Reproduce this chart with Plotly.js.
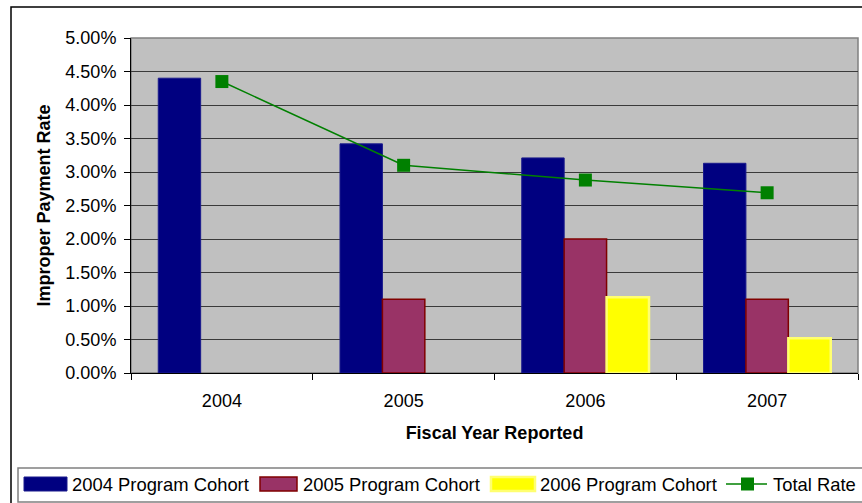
<!DOCTYPE html>
<html>
<head>
<meta charset="utf-8">
<script src="https://cdn.plot.ly/plotly-3.0.1.min.js"></script>
<style>
  html, body { margin: 0; padding: 0; background: #ffffff; }
  #chart { width: 862px; height: 503px; }
</style>
</head>
<body>
<div id="chart"></div>
<script>
// Fiscal years reported and improper payment rates (percent)
const years = ['2004', '2005', '2006', '2007'];
const cohort2004 = [4.40, 3.42, 3.21, 3.13];
const cohort2005 = [null, 1.10, 2.00, 1.10];
const cohort2006 = [null, null, 1.13, 0.52];
const totalRate = [4.35, 3.10, 2.88, 2.69];
const seriesNames = ['2004 Program Cohort', '2005 Program Cohort', '2006 Program Cohort', 'Total Rate'];
const yTicks = [0, 0.5, 1, 1.5, 2, 2.5, 3, 3.5, 4, 4.5, 5];

const W = 862, H = 503;
const M = { l: 131, r: 4, t: 38, b: 130 };
const PW = W - M.l - M.r, PH = H - M.t - M.b;
// pixel -> paper coordinates for decorations around the plot
const px = x => (x - M.l) / PW;
const py = y => (H - M.b - y) / PH;

const FONT = 'Liberation Sans, Arial, sans-serif';
const navy = '#000080', maroon = '#993366', yellow = '#FFFF00', green = '#008000';

const traces = [
  { type: 'bar', name: seriesNames[0], x: years, y: cohort2004,
    marker: { color: navy, line: { color: '#1a1a8c', width: 1 } }, hoverinfo: 'y' },
  { type: 'bar', name: seriesNames[1], x: years, y: cohort2005,
    marker: { color: maroon, line: { color: '#800000', width: 1.5 } }, hoverinfo: 'y' },
  { type: 'bar', name: seriesNames[2], x: years, y: cohort2006,
    marker: { color: yellow, line: { color: '#FFFF70', width: 2.5 } }, hoverinfo: 'y' },
  { type: 'scatter', mode: 'lines+markers', name: seriesNames[3], x: years, y: totalRate,
    line: { color: green, width: 1.5 },
    marker: { symbol: 'square', size: 13, color: green }, hoverinfo: 'y' }
];

// Legend drawn as a bordered strip below the chart
const legendY = 484;
const swatches = [
  { x0: 24, x1: 67, fill: navy, line: '#1a1a8c', lw: 1 },
  { x0: 260, x1: 297, fill: maroon, line: '#800000', lw: 1.5 },
  { x0: 491, x1: 535, fill: yellow, line: '#FFFF70', lw: 2.5 }
];
const textX = [70, 301, 538, 771];

const shapes = [
  // outer chart frame
  { type: 'rect', xref: 'paper', yref: 'paper', x0: px(11), x1: px(880), y0: py(540), y1: py(7),
    line: { color: '#000000', width: 1.5 }, fillcolor: 'rgba(0,0,0,0)', layer: 'below' },
  // plot area border (top / right)
  { type: 'rect', xref: 'paper', yref: 'paper', x0: 0, x1: 1, y0: 0, y1: 1,
    line: { color: '#808080', width: 1.5 }, fillcolor: 'rgba(0,0,0,0)', layer: 'below' },
  // legend box
  { type: 'rect', xref: 'paper', yref: 'paper', x0: px(18), x1: px(880), y0: py(502), y1: py(468),
    line: { color: '#808080', width: 1.5 }, fillcolor: '#ffffff' }
];
swatches.forEach(s => shapes.push({
  type: 'rect', xref: 'paper', yref: 'paper', x0: px(s.x0), x1: px(s.x1),
  y0: py(legendY + 7), y1: py(legendY - 7),
  fillcolor: s.fill, line: { color: s.line, width: s.lw }
}));
shapes.push({ type: 'line', xref: 'paper', yref: 'paper', x0: px(726), x1: px(767),
  y0: py(legendY), y1: py(legendY), line: { color: green, width: 1.5 } });
shapes.push({ type: 'rect', xref: 'paper', yref: 'paper', x0: px(741), x1: px(754),
  y0: py(legendY + 6.5), y1: py(legendY - 6.5), fillcolor: green, line: { width: 0 } });

const annotations = seriesNames.map((name, i) => ({
  xref: 'paper', yref: 'paper', x: px(textX[i]), y: py(legendY),
  xanchor: 'left', yanchor: 'middle', showarrow: false, text: name,
  font: { family: FONT, size: 18.4, color: '#000000' }
}));

const layout = {
  width: W, height: H,
  margin: M,
  paper_bgcolor: '#ffffff',
  plot_bgcolor: '#C0C0C0',
  font: { family: FONT, size: 18, color: '#000000' },
  showlegend: false,
  barmode: 'group',
  bargap: 0.3,
  bargroupgap: 0,
  xaxis: {
    type: 'category',
    showline: true, linecolor: '#000000', linewidth: 1,
    ticks: 'outside', tickson: 'boundaries', ticklen: 6, tickcolor: '#000000',
    ticklabelstandoff: 11,
    showgrid: false, zeroline: false,
    tickfont: { family: FONT, size: 18 },
    title: { text: 'Fiscal Year Reported', standoff: 16,
      font: { family: FONT, size: 18, weight: 'bold' } },
    automargin: false
  },
  yaxis: {
    range: [0, 5],
    tickvals: yTicks,
    ticktext: yTicks.map(v => v.toFixed(2) + '%'),
    showline: true, linecolor: '#000000', linewidth: 1,
    ticks: 'outside', ticklen: 6, tickcolor: '#000000',
    ticklabelstandoff: 4,
    showgrid: true, gridcolor: '#3a3a3a', gridwidth: 1,
    zeroline: false,
    tickfont: { family: FONT, size: 18 },
    title: { text: 'Improper Payment Rate', standoff: 10,
      font: { family: FONT, size: 18, weight: 'bold' } },
    automargin: false
  },
  shapes: shapes,
  annotations: annotations
};

Plotly.newPlot('chart', traces, layout, { staticPlot: true, displayModeBar: false });
</script>
</body>
</html>
